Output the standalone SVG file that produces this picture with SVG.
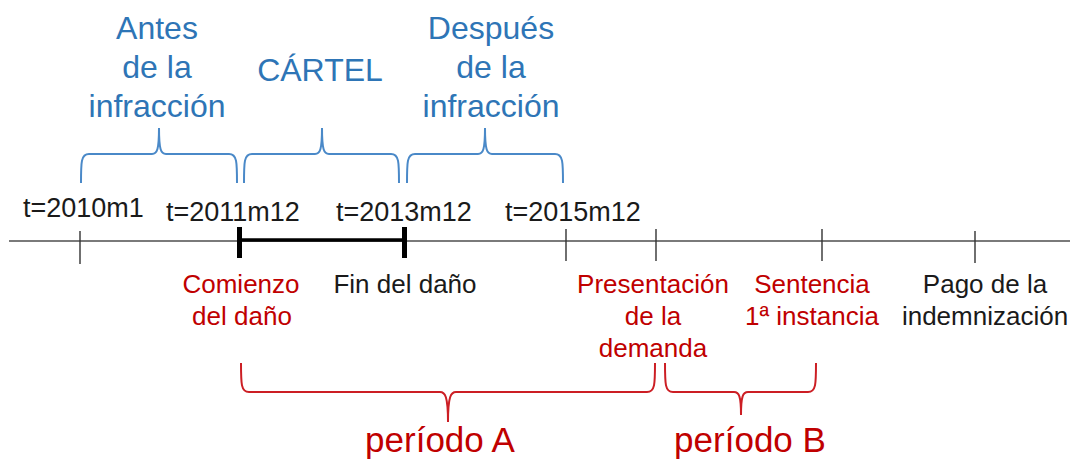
<svg xmlns="http://www.w3.org/2000/svg" width="1070" height="459" viewBox="0 0 1070 459">
<style>
text{font-family:"Liberation Sans",Arial,sans-serif}
.blue{fill:#2E75B6;font-size:32px;text-anchor:middle}
.blk{fill:#1a1a1a;font-size:26px;text-anchor:middle}
.t{fill:#1a1a1a;font-size:27px}
.red{fill:#C00000;font-size:26px;text-anchor:middle}
.per{fill:#C00000;font-size:35px;text-anchor:middle}
.bb{fill:none;stroke:#4A89C8;stroke-width:2}
.rb{fill:none;stroke:#CC1E24;stroke-width:2}
.tick{stroke:#333;stroke-width:1.4}
.bar{stroke:#000;stroke-width:5}
</style>
<rect width="1070" height="459" fill="#fff"/>
<g id="connectors">
  <line x1="9" y1="241" x2="1070" y2="241" stroke="#7a7a7a" stroke-width="1.8"/>
  <line class="tick" x1="80" y1="231" x2="80" y2="264"/>
  <line class="tick" x1="566" y1="229" x2="566" y2="261"/>
  <line class="tick" x1="656" y1="229" x2="656" y2="261"/>
  <line class="tick" x1="822" y1="229" x2="822" y2="261"/>
  <line class="tick" x1="975" y1="231" x2="975" y2="263"/>
  <line x1="239.5" y1="240" x2="404.5" y2="240" stroke="#000" stroke-width="3.5"/>
  <line class="bar" x1="239.5" y1="227" x2="239.5" y2="258"/>
  <line class="bar" x1="404.5" y1="227" x2="404.5" y2="258"/>
  <path class="bb" d="M81 183 C81 162 81 154 89 154 L152 154 C157 154 159 150 159 128 C159 150 161 154 166 154 L229 154 C237 154 237 162 237 183"/>
  <path class="bb" d="M244 183 C244 162 244 154 252 154 L315 154 C320 154 322 150 322 128 C322 150 324 154 329 154 L391 154 C399 154 399 162 399 183"/>
  <path class="bb" d="M407 183 C407 162 407 154 415 154 L478 154 C483 154 485 150 485 128 C485 150 487 154 492 154 L555 154 C563 154 563 162 563 183"/>
  <path class="rb" d="M241 363 C241 384 241 392 249 392 L440 392 C445 392 448 396 448 422 C448 396 451 392 456 392 L647 392 C655 392 655 384 655 363"/>
  <path class="rb" d="M665 363 C665 384 665 392 673 392 L734 392 C739 392 741 396 741 415 C741 396 743 392 748 392 L808 392 C816 392 816 384 816 363"/>
</g>
<g id="antes">
  <text class="blue" x="157" y="39">Antes</text>
  <text class="blue" x="157" y="78">de la</text>
  <text class="blue" x="157" y="117">infracción</text>
</g>
<g id="cartel"><text class="blue" x="320" y="81">CÁRTEL</text></g>
<g id="despues">
  <text class="blue" x="491" y="39">Después</text>
  <text class="blue" x="491" y="78">de la</text>
  <text class="blue" x="491" y="117">infracción</text>
</g>
<g id="t2010"><text class="t" x="23" y="217">t=2010m1</text></g>
<g id="t2011"><text class="t" x="166" y="221">t=2011m12</text></g>
<g id="t2013"><text class="t" x="336" y="221">t=2013m12</text></g>
<g id="t2015"><text class="t" x="505" y="221">t=2015m12</text></g>
<g id="comienzo">
  <text class="red" x="241" y="293">Comienzo</text>
  <text class="red" x="242" y="325">del daño</text>
</g>
<g id="fin"><text class="blk" x="405" y="293">Fin del daño</text></g>
<g id="presentacion">
  <text class="red" x="653" y="293">Presentación</text>
  <text class="red" x="653" y="325">de la</text>
  <text class="red" x="653" y="357">demanda</text>
</g>
<g id="sentencia">
  <text class="red" x="812" y="293">Sentencia</text>
  <text class="red" x="812" y="325">1ª instancia</text>
</g>
<g id="pago">
  <text class="blk" x="985" y="293">Pago de la</text>
  <text class="blk" x="985" y="325">indemnización</text>
</g>
<g id="periodoA"><text class="per" x="440" y="452">período A</text></g>
<g id="periodoB"><text class="per" x="750" y="452">período B</text></g>
</svg>
